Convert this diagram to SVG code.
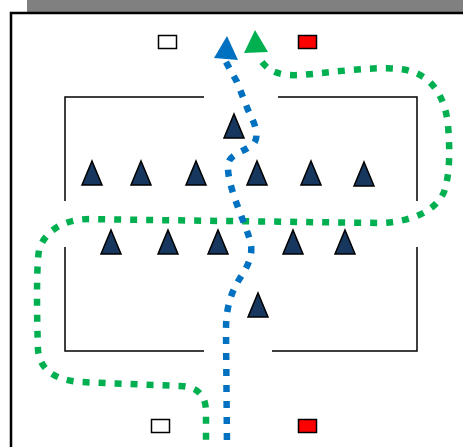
<svg xmlns="http://www.w3.org/2000/svg" width="463" height="447" viewBox="0 0 463 447">
<defs>
<style>
.frame{fill:none;stroke:#000;stroke-width:2.5}
.field{fill:none;stroke:#000;stroke-width:1.5}
.cone{fill:#17375e;stroke:#000;stroke-width:1.5;stroke-linejoin:miter}
.box{stroke:#000;stroke-width:1.5}
.route{fill:none;stroke-width:6.5;stroke-dasharray:7 9}
</style>
<polygon id="cone" class="cone" points="0,-12 10,12 -10,12"/>
</defs>
<rect width="463" height="447" fill="#fff"/>
<rect x="27" y="0" width="436" height="12" fill="#808080"/>
<path class="frame" d="M11,447 V13 H465"/>
<g id="field">
<path class="field" d="M204,97 H65 V201 M65,247 V351 H204 M278,97 H417 V201 M417,247 V351 H272"/>
</g>
<g id="box-top-white"><rect class="box" x="158.5" y="35.5" width="18" height="13" fill="#fff"/></g>
<g id="box-top-red"><rect class="box" x="298.5" y="35.5" width="18" height="13" fill="#ff0000"/></g>
<g id="box-bottom-white"><rect class="box" x="151.5" y="419.5" width="18" height="13" fill="#fff"/></g>
<g id="box-bottom-red"><rect class="box" x="298.5" y="419.5" width="18" height="13" fill="#ff0000"/></g>
<g id="cone-1"><use href="#cone" x="234" y="126"/></g>
<g id="cone-2"><use href="#cone" x="92" y="173"/></g>
<g id="cone-3"><use href="#cone" x="141" y="173"/></g>
<g id="cone-4"><use href="#cone" x="196" y="173"/></g>
<g id="cone-5"><use href="#cone" x="257" y="173"/></g>
<g id="cone-6"><use href="#cone" x="311" y="173"/></g>
<g id="cone-7"><use href="#cone" x="364" y="174"/></g>
<g id="cone-8"><use href="#cone" x="111" y="242"/></g>
<g id="cone-9"><use href="#cone" x="168" y="242"/></g>
<g id="cone-10"><use href="#cone" x="218" y="242"/></g>
<g id="cone-11"><use href="#cone" x="293" y="242"/></g>
<g id="cone-12"><use href="#cone" x="345" y="242"/></g>
<g id="cone-13"><use href="#cone" x="258" y="305"/></g>
<g id="connectors">
<path class="route" stroke="#00b050" d="M262,62 C270,72 280,76 300,75 C330,73 370,66 400,69 C430,72 445,95 448,125 C450,150 450,175 444,192 C435,212 410,222 380,223 L150,220 L90,219 C65,219 45,230 39,250 C36,270 37,320 38,350 C40,370 55,380 80,382 L180,386 C198,387 205,395 206,410 L206,447"/>
<path class="route" stroke="#0070c0" d="M226,62 L237,82 L248,110 C254,122 260,135 254,143 C246,152 229,153 228,165 C227,185 242,215 250,240 C254,255 248,265 242,275 C232,290 226,305 226,330 L227,447"/>
<polygon points="227,36 214,58 238,60" fill="#0070c0"/>
<polygon points="255,30 244,53 268,52" fill="#00b050"/>
</g>
</svg>
